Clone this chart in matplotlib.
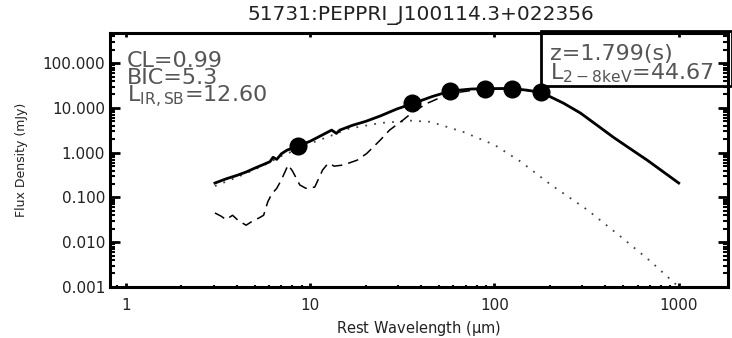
import matplotlib
matplotlib.use('Agg')
import matplotlib.pyplot as plt
from matplotlib.ticker import FixedLocator, FixedFormatter, LogLocator, NullFormatter
from matplotlib.patches import Rectangle

plt.rcParams['font.family'] = ['DejaVu Sans']
plt.rcParams['mathtext.default'] = 'regular'

title = "51731:PEPPRI_J100114.3+022356"

# total model (solid)
total_wave = [3.05, 3.5, 4.0, 4.5, 5.0, 5.5, 6.06, 6.3, 6.6, 7.0, 7.5, 8.6, 10.0, 11.0, 12.1, 13.1, 13.9, 14.5,
              17.0, 20.0, 24.0, 29.6, 36.0, 46.0, 58.0, 75.0, 90.0, 110.0, 125.0, 150.0, 180.0, 237.0, 293.0,
              361.0, 443.0, 550.0, 675.0, 1000.0]
total_flux = [0.21, 0.26, 0.31, 0.37, 0.45, 0.53, 0.63, 0.79, 0.71, 0.95, 1.14, 1.4, 1.8, 2.2, 2.7, 3.2, 2.7, 3.2,
              4.1, 5.0, 6.6, 9.5, 12.5, 18.0, 24.0, 26.5, 27.0, 27.2, 27.0, 25.0, 22.2, 12.8, 7.7,
              4.1, 2.2, 1.2, 0.68, 0.21]

# AGN component (dotted)
agn_wave = [3.05, 4.0, 5.0, 6.0, 7.0, 8.6, 10.0, 13.0, 16.0, 24.0, 35.0, 45.0, 68.0, 100.0, 139.0, 200.0, 319.0,
            500.0, 700.0, 1000.0]
agn_flux = [0.18, 0.28, 0.42, 0.6, 0.85, 1.2, 1.6, 2.4, 3.4, 4.6, 5.2, 4.9, 2.9, 1.5, 0.63, 0.2, 0.053,
            0.012, 0.0038, 0.001]

# starburst component (dashed)
sb_wave = [3.05, 3.3, 3.5, 3.8, 4.1, 4.5, 4.9, 5.3, 5.6, 5.9, 6.2, 6.6, 7.0, 7.6, 8.0, 8.5, 8.8, 9.5, 10.6, 11.3,
           11.7, 12.4, 12.8, 13.5, 15.1, 16.5, 18.0, 20.3, 24.0, 27.0, 32.0, 36.0, 43.0, 50.0, 60.0, 80.0, 100.0,
           125.0, 150.0, 180.0, 237.0, 293.0, 361.0, 443.0, 550.0, 675.0, 1000.0]
sb_flux = [0.045, 0.038, 0.032, 0.040, 0.030, 0.024, 0.030, 0.035, 0.040, 0.08, 0.12, 0.16, 0.25, 0.53, 0.40,
           0.25, 0.19, 0.16, 0.17, 0.30, 0.41, 0.55, 0.58, 0.50, 0.53, 0.60, 0.68, 0.96, 1.9, 3.2, 5.4, 8.0, 12.6,
           16.5, 21.5, 25.5, 26.5, 26.5, 24.5, 22.0, 12.7, 7.6, 4.05, 2.2, 1.2, 0.68, 0.21]

# photometry
phot_wave = [8.57, 35.7, 57.2, 89.3, 125.0, 178.6]
phot_flux = [1.4, 12.8, 24.0, 26.5, 26.5, 22.2]

xticks = [1, 10, 100, 1000]
xticklabels = ["1", "10", "100", "1000"]
yticks = [0.001, 0.01, 0.1, 1, 10, 100]
yticklabels = ["0.001", "0.010", "0.100", "1.000", "10.000", "100.000"]

fit_lines = ["CL=0.99", "BIC=5.3", "L$_{IR,SB}$=12.60"]
box_lines = ["z=1.799(s)", "L$_{2-8keV}$=44.67"]

fig = plt.figure(figsize=(7.32, 3.38), dpi=100)
ax = fig.add_axes([0.150, 0.151, 0.8445, 0.751])

ax.plot(total_wave, total_flux, '-', color='black', lw=2.0, zorder=4)
ax.plot(agn_wave, agn_flux, color='#444444', lw=1.3, linestyle=(0, (1, 4)), zorder=3)
ax.plot(sb_wave, sb_flux, color='black', lw=1.1, linestyle=(0, (7, 4)), zorder=3)
ax.plot(phot_wave, phot_flux, 'o', color='black', ms=12, zorder=5)

ax.set_xscale('log')
ax.set_yscale('log')
ax.set_xlim(0.82, 1850)
ax.set_ylim(0.001, 470)

ax.xaxis.set_major_locator(FixedLocator(xticks))
ax.xaxis.set_major_formatter(FixedFormatter(xticklabels))
ax.yaxis.set_major_locator(FixedLocator(yticks))
ax.yaxis.set_major_formatter(FixedFormatter(yticklabels))
ax.xaxis.set_minor_locator(LogLocator(base=10, subs=range(2, 10), numticks=20))
ax.yaxis.set_minor_locator(LogLocator(base=10, subs=range(2, 10), numticks=20))
ax.xaxis.set_minor_formatter(NullFormatter())
ax.yaxis.set_minor_formatter(NullFormatter())

ax.tick_params(axis='both', which='both', direction='in', top=True, right=True, labelsize=11,
               colors='black', labelcolor='#222222')
ax.tick_params(axis='y', which='major', length=7, width=2)
ax.tick_params(axis='y', which='minor', length=3.5, width=1.5)
ax.tick_params(axis='x', which='major', length=3, width=2, pad=8)
ax.tick_params(axis='x', which='minor', length=1.5, width=1.5)
for s in ax.spines.values():
    s.set_linewidth(2.2)

ax.set_xlabel("Rest Wavelength ($\\mu$m)", fontsize=10.5, color='#222222', labelpad=4)
ax.set_ylabel("Flux Density (mJy)", fontsize=9, color='#222222', labelpad=10)
fig.text(0.575, 0.955, title, ha='center', va='center', fontsize=14.5, color='#222222')

tc = '#555555'
fs = 16
ax.text(0.0275, 0.728, "\n".join(fit_lines), transform=ax.transAxes, fontsize=fs, color=tc,
        va='baseline', ha='left', linespacing=0.78)

ax.add_patch(Rectangle((0.697, 0.79), 0.31, 0.22, transform=ax.transAxes, fill=False,
                       edgecolor='black', lw=2, zorder=6, clip_on=False))
ax.text(0.712, 0.819, "\n".join(box_lines), transform=ax.transAxes, fontsize=fs, color=tc,
        va='baseline', ha='left', linespacing=0.85)

fig.savefig('out.png', dpi=100)
